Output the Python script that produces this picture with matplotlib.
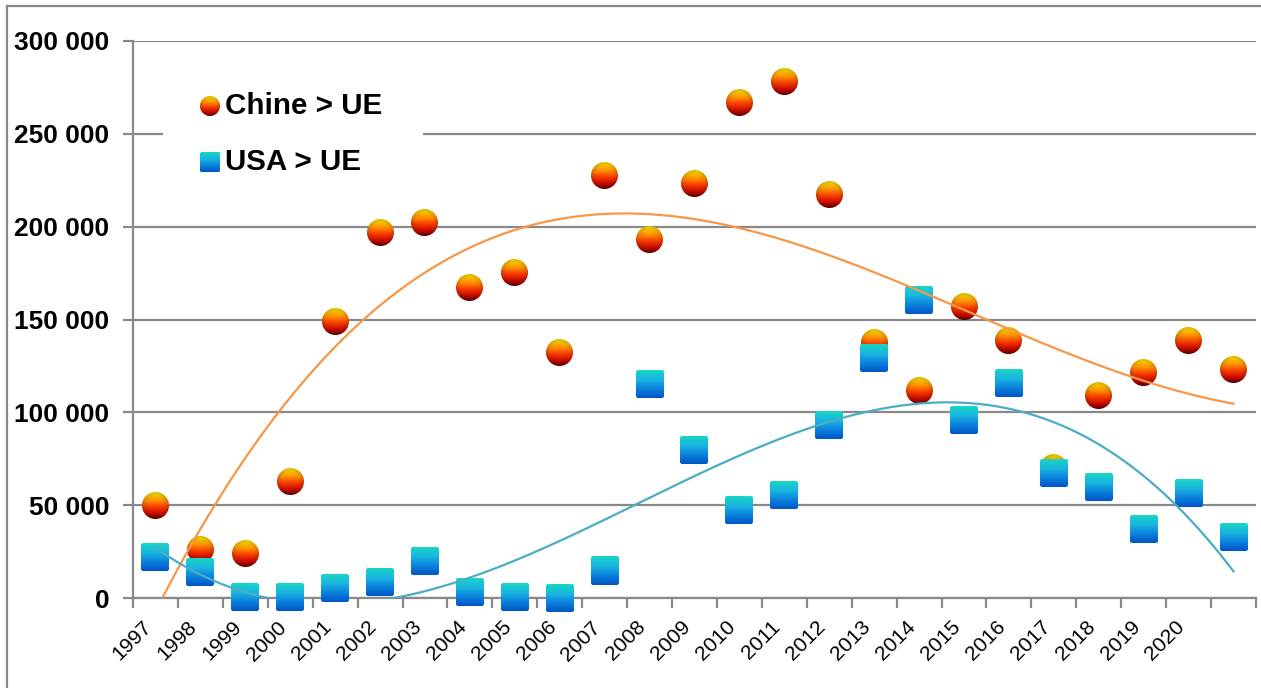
import numpy as np
import matplotlib
matplotlib.use("Agg")
import matplotlib.pyplot as plt
from matplotlib.offsetbox import OffsetImage, AnnotationBbox
from matplotlib.ticker import FuncFormatter, MultipleLocator
from matplotlib.patches import Rectangle
from matplotlib.lines import Line2D

# ---------------- data ----------------
years = ["1997", "1998", "1999", "2000", "2001", "2002", "2003", "2004", "2005",
         "2006", "2007", "2008", "2009", "2010", "2011", "2012", "2013", "2014",
         "2015", "2016", "2017", "2018", "2019", "2020", ""]
chine_ue = [50000, 26000, 24000, 63000, 149000, 197000, 202000, 167000, 175500,
            132000, 227500, 193000, 223500, 267000, 278000, 217500, 137500, 112000,
            157000, 138500, 70500, 109000, 121500, 138500, 123000]
usa_ue = [22300, 14000, 500, 300, 5400, 8600, 19700, 3500, 800,
          0, 14500, 115300, 79700, 47400, 55500, 93200, 129300, 160500,
          95900, 115800, 67100, 59800, 37200, 56300, 32600]
series_names = ["Chine > UE", "USA > UE"]

GRAY = "#898989"
ORANGE_TREND = "#F79646"
BLUE_TREND = "#4BACC6"

plt.rcParams['font.family'] = ['Liberation Sans', 'DejaVu Sans']

fig = plt.figure(figsize=(12.61, 6.88), dpi=100)
ax = fig.add_axes([133/1261, 1-598/688, (1256-133)/1261, (598-41)/688])

n = len(years)
x = np.arange(1, n + 1)
ax.set_xlim(0.5, n + 0.5)
ax.set_ylim(0, 300000)


def gradient_marker(kind, size, stops):
    ss = 4
    N = size * ss
    yy, xx = np.mgrid[0:N, 0:N] + 0.5
    t = yy / N
    cols = np.zeros((N, N, 4))
    pos = [s[0] for s in stops]
    for c in range(3):
        cols[..., c] = np.interp(t, pos, [s[1][c] / 255 for s in stops])
    if kind == "circle":
        r = N / 2
        d = np.sqrt((xx - r) ** 2 + (yy - r) ** 2)
        alpha = (d <= r).astype(float)
        shade = 1 - 0.18 * (d / r) ** 4
        cols[..., :3] *= shade[..., None]
    else:
        rad = N * 0.08
        cx = np.clip(xx, rad, N - rad)
        cy = np.clip(yy, rad, N - rad)
        d = np.sqrt((xx - cx) ** 2 + (yy - cy) ** 2)
        alpha = (d <= rad).astype(float)
    cols[..., 3] = alpha
    img = cols.reshape(size, ss, size, ss, 4).mean(axis=(1, 3))
    a = img[..., 3:4]
    rgb = cols[..., :3] * cols[..., 3:4]
    rgb = rgb.reshape(size, ss, size, ss, 3).mean(axis=(1, 3))
    img[..., :3] = np.where(a > 0, rgb / np.maximum(a, 1e-6), 0)
    return np.clip(img, 0, 1)


circle_stops = [(0.0, (255, 235, 0)), (0.3, (255, 150, 0)), (0.55, (250, 60, 0)),
                (0.8, (200, 10, 0)), (1.0, (100, 0, 0))]
square_stops = [(0.0, (25, 215, 195)), (0.35, (25, 180, 225)), (0.7, (10, 125, 220)),
                (1.0, (0, 85, 195))]

circ_img = gradient_marker("circle", 27, circle_stops)
sq_img = gradient_marker("square", 28, square_stops)
circ_leg = gradient_marker("circle", 20, circle_stops)
sq_leg = gradient_marker("square", 20, square_stops)


def place(img, xy, coords="data", z=3):
    oi = OffsetImage(img, zoom=1, dpi_cor=False, interpolation="bilinear")
    ab = AnnotationBbox(oi, xy, xycoords=coords, frameon=False, pad=0,
                        annotation_clip=False, zorder=z)
    ax.add_artist(ab)


for xi, v in zip(x, chine_ue):
    place(circ_img, (xi, v), z=3)
for xi, v in zip(x, usa_ue):
    place(sq_img, (xi, v), z=4)

# polynomial trend lines (fitted to the series, as in the spreadsheet)
xs = np.linspace(1, n, 400)
pc = np.polyfit(x, chine_ue, 3)
pu = np.polyfit(x, usa_ue, 3)
ax.plot(xs, np.polyval(pc, xs), color=ORANGE_TREND, lw=1.6, zorder=6)
ax.plot(xs, np.polyval(pu, xs), color=BLUE_TREND, lw=1.6, zorder=6)

# grid & axes
ax.yaxis.set_major_locator(MultipleLocator(50000))
ax.yaxis.set_major_formatter(FuncFormatter(lambda v, p: f"{int(v):,}".replace(",", " ")))
ax.grid(axis="y", color=GRAY, lw=1.6, zorder=0)
ax.set_axisbelow(True)
for s in ["top", "right"]:
    ax.spines[s].set_visible(False)
for s in ["left", "bottom"]:
    ax.spines[s].set_color(GRAY)
    ax.spines[s].set_linewidth(1.6)

ax.set_xticks(np.arange(0.5, n + 1, 1), minor=False)
ax.set_xticklabels([])
ax.set_xticks(x, minor=True)
ax.set_xticklabels(years, minor=True, rotation=45, ha="right", va="top",
                   rotation_mode="default", fontsize=15.2)
ax.tick_params(axis="x", which="major", length=7, width=1.6, color=GRAY, direction="out")
ax.tick_params(axis="x", which="minor", length=0, pad=14)
ax.tick_params(axis="y", length=7, width=1.6, color=GRAY, direction="out", pad=10)
for lab in ax.get_yticklabels():
    lab.set_fontsize(19)
    lab.set_fontweight("bold")

# legend (manual)
lx0 = (163 - 133) / (1256 - 133)
lx1 = (423 - 133) / (1256 - 133)
ly0 = (598 - 190) / (598 - 41)
ly1 = (598 - 72) / (598 - 41)
ax.add_patch(Rectangle((lx0, ly0), lx1 - lx0, ly1 - ly0, transform=ax.transAxes,
                       facecolor="white", edgecolor="none", zorder=7))


def axfrac(px, py):
    return ((px - 133) / (1256 - 133), (598 - py) / (598 - 41))


place(circ_leg, axfrac(210, 106), coords="axes fraction", z=8)
place(sq_leg, axfrac(210, 162), coords="axes fraction", z=8)
ax.text(*axfrac(225, 106), series_names[0], transform=ax.transAxes, fontsize=21.3,
        fontweight="bold", va="center", ha="left", zorder=8)
ax.text(*axfrac(225, 162), series_names[1], transform=ax.transAxes, fontsize=21.3,
        fontweight="bold", va="center", ha="left", zorder=8)

# outer frame (left and top edges visible)
fig.add_artist(Line2D([6.5/1261, 6.5/1261], [0, 1-6/688], transform=fig.transFigure,
                      color=GRAY, lw=1.6))
fig.add_artist(Line2D([6.5/1261, 1], [1-6/688, 1-6/688], transform=fig.transFigure,
                      color=GRAY, lw=1.6))

fig.savefig("out.png", dpi=100)
